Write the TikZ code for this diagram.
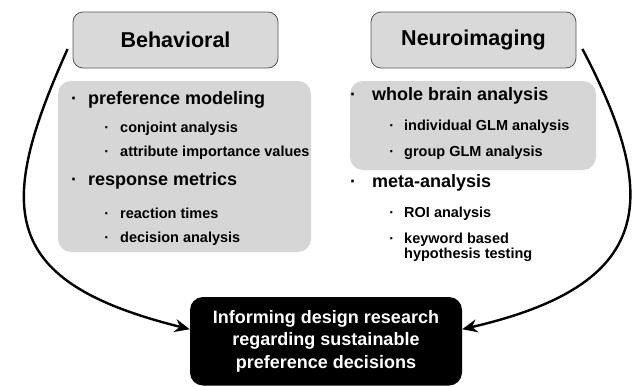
\documentclass[tikz,border=0pt]{standalone}
\usepackage{fontspec}
\setmainfont{Liberation Sans}
\usepackage{tikz}
\usetikzlibrary{arrows.meta}

\definecolor{boxgray}{HTML}{D9D9D9}
\definecolor{panelgray}{HTML}{D6D6D6}
\definecolor{edgegray}{HTML}{555555}
\newcommand{\bul}[1]{\llap{·\hspace{#1}}} % 行頭の点

\tikzset{
  head/.style={draw=edgegray, line width=0.8pt, fill=boxgray, rounded corners=10pt,
    minimum width=205pt, minimum height=56pt, font=\bfseries\fontsize{21.5}{24}\selectfont},
  panel/.style={fill=panelgray, rounded corners=13pt},
  mainitem/.style={anchor=west, inner sep=0pt, font=\bfseries\fontsize{18}{20}\selectfont},
  subitem/.style={anchor=west, inner sep=0pt, align=left, font=\bfseries\fontsize{14.5}{14.5}\selectfont},
  goalbox/.style={fill=black, text=white, rounded corners=13pt, align=center,
    minimum width=272pt, minimum height=88.5pt, font=\bfseries\fontsize{18}{22.5}\selectfont},
  link/.style={line width=2.4pt, -{Stealth[length=15pt,width=13pt]}}
}

\begin{document}
\begin{tikzpicture}[x=1pt,y=-1pt]

          \useasboundingbox (0,0) rectangle (632,386); %図の範囲

          \node[panel, minimum width=253pt, minimum height=171pt] (bpanel) at (184.5,166.5) {}; %左の灰色の枠
          \node[panel, minimum width=246pt, minimum height=89pt] (npanel) at (473,125.5) {}; %右の灰色の枠

          \node[head] (beh) at (175.5,40) {Behavioral}; %左の見出し
          \node[head] (neu) at (473.5,40) {Neuroimaging}; %右の見出し

          \node[mainitem] (pref) at (88,100) {\bul{11pt}preference modeling};
          \node[subitem] (conj) at (120,129) {\bul{11pt}conjoint analysis};
          \node[subitem] (attr) at (120,153) {\bul{11pt}attribute importance values};
          \node[mainitem] (resp) at (88,181) {\bul{11pt}response metrics};
          \node[subitem] (react) at (120,213) {\bul{11pt}reaction times};
          \node[subitem] (decis) at (120,239) {\bul{11pt}decision analysis};

          \node[mainitem] (whole) at (372,96) {\bul{16pt}whole brain analysis};
          \node[subitem] (indiv) at (404,127) {\bul{10pt}individual GLM analysis};
          \node[subitem] (group) at (404,153) {\bul{10pt}group GLM analysis};
          \node[mainitem] (meta) at (372,183) {\bul{16pt}meta-analysis};
          \node[subitem] (roi) at (404,214) {\bul{10pt}ROI analysis};
          \node[subitem, anchor=north west] (kw) at (404,233) {\bul{10pt}keyword based\\hypothesis testing};

          \node[goalbox] (goal) at (326,341.25) {Informing design research\\regarding sustainable\\preference decisions}; %黒い箱

          \draw[link] ([shift={(-5pt,-9pt)}]beh.west) .. controls (-5,210) and (0,282) .. ([yshift=12pt]goal.west); %左の矢印
          \draw[link] ([shift={(6pt,-9pt)}]neu.east) .. controls (662,200) and (654,285) .. ([yshift=12pt]goal.east); %右の矢印

        \end{tikzpicture}
\end{document}
